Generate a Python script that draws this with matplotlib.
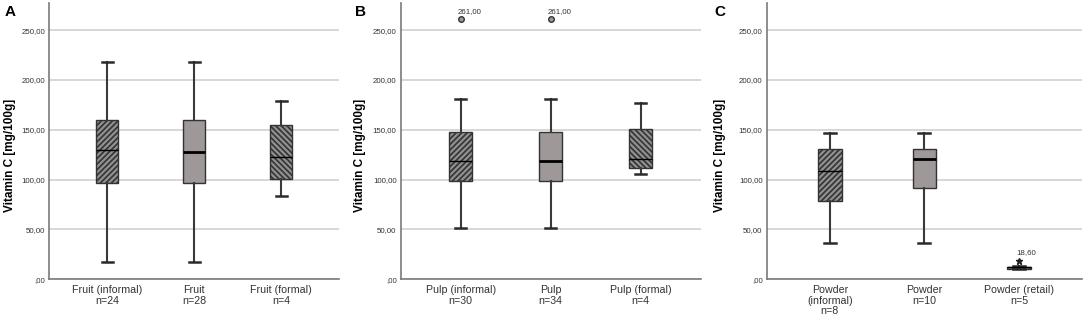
import matplotlib
matplotlib.use('Agg')
import matplotlib.pyplot as plt
from matplotlib.ticker import FuncFormatter

# Panel A - fruit
fruit_labels = ['Fruit (informal)\nn=24', 'Fruit\nn=28', 'Fruit (formal)\nn=4']
fruit_low = [17, 17, 84]
fruit_q1 = [97, 97, 100.5]
fruit_med = [130, 128, 122.5]
fruit_q3 = [160, 160, 154.5]
fruit_high = [218, 218, 179]
fruit_fliers = [[], [], []]

# Panel B - pulp
pulp_labels = ['Pulp (informal)\nn=30', 'Pulp\nn=34', 'Pulp (formal)\nn=4']
pulp_low = [51.5, 51.5, 106]
pulp_q1 = [98.5, 98.5, 112]
pulp_med = [119, 119, 121]
pulp_q3 = [148, 148, 151]
pulp_high = [181, 181, 177]
pulp_fliers = [[261], [261], []]

# Panel C - powder
powder_labels = ['Powder\n(informal)\nn=8', 'Powder\nn=10', 'Powder (retail)\nn=5']
powder_low = [36, 36, 10]
powder_q1 = [79, 92, 10.5]
powder_med = [108.5, 120.5, 12]
powder_q3 = [130.5, 130.5, 12.8]
powder_high = [147, 147, 13]
powder_fliers = [[], [], [18.6]]

y_ticks = [0, 50, 100, 150, 200, 250]

plt.rcParams['font.family'] = ['Liberation Sans', 'DejaVu Sans']
plt.rcParams['hatch.linewidth'] = 1.2
plt.rcParams['hatch.color'] = '#333333'

W, H = 1084, 323


def spss_fmt(v):
    s = f"{v:.2f}".replace('.', ',')
    if s.startswith('0'):
        s = s[1:]
    return s


def draw_panel(ax, labels, low, q1, med, q3, high, fliers, styles, flier_marker):
    for i in range(len(labels)):
        stats = [{'whislo': low[i], 'q1': q1[i], 'med': med[i],
                  'q3': q3[i], 'whishi': high[i], 'fliers': fliers[i]}]
        hatched = styles[i] != 'solid'
        box = dict(facecolor='#909090' if hatched else '#9e9898',
                   edgecolor='#333333', linewidth=1.0,
                   hatch=styles[i] if hatched else None)
        if flier_marker == '*':
            fp = dict(marker='*', markersize=5, markerfacecolor='#222222',
                      markeredgecolor='#222222', linestyle='none')
        else:
            fp = dict(marker='o', markersize=4, markerfacecolor='#9a9a9a',
                      markeredgecolor='#333333', markeredgewidth=1.0,
                      linestyle='none')
        ax.bxp(stats, positions=[i + 1], widths=0.25, capwidths=0.125,
               patch_artist=True, boxprops=box,
               medianprops=dict(color='black', linewidth=1.0 if hatched else 2.0),
               whiskerprops=dict(color='#3a3a3a', linewidth=1.5),
               capprops=dict(color='#2a2a2a', linewidth=1.8),
               flierprops=fp, zorder=3)
        for v in fliers[i]:
            ax.annotate(spss_fmt(v), (i + 1, v), xytext=(-3, 8),
                        textcoords='offset pixels', ha='left', va='center',
                        fontsize=5.7, color='#333333')

    ax.set_xlim(1 / 3, 11 / 3)
    ax.set_ylim(0, 277)
    ax.set_yticks(y_ticks)
    ax.yaxis.set_major_formatter(FuncFormatter(lambda v, p: spss_fmt(v)))
    ax.set_xticks(range(1, len(labels) + 1))
    ax.set_xticklabels(labels, fontsize=7.7, color='#333333')
    for lbl in ax.get_xticklabels():
        lbl.set_linespacing(1.1)
    ax.tick_params(axis='y', length=0, pad=3, labelsize=5.7, labelcolor='#333333')
    ax.tick_params(axis='x', length=0, pad=4)
    ax.set_axisbelow(True)
    ax.grid(axis='y', color='#d4d4d4', linewidth=1.3)
    for side in ['top', 'right']:
        ax.spines[side].set_visible(False)
    for side in ['left', 'bottom']:
        ax.spines[side].set_color('#7a7a7a')
        ax.spines[side].set_linewidth(1.2)


fig = plt.figure(figsize=(W / 100, H / 100), dpi=100)

# axes extents in pixels: left, right
panels = [
    (49.3, 339.3, 'A', 10, fruit_labels, fruit_low, fruit_q1, fruit_med, fruit_q3, fruit_high, fruit_fliers, 'o'),
    (400.7, 700.7, 'B', 360, pulp_labels, pulp_low, pulp_q1, pulp_med, pulp_q3, pulp_high, pulp_fliers, 'o'),
    (766.7, 1082, 'C', 720, powder_labels, powder_low, powder_q1, powder_med, powder_q3, powder_high, powder_fliers, '*'),
]
styles = ['//////', 'solid', '\\\\\\\\\\\\']
top_px, bottom_px = 3.3, 279.3

for left, right, letter, lx, labels, lo, a, m, b, hi, fl, mk in panels:
    ax = fig.add_axes([left / W, (H - bottom_px) / H, (right - left) / W,
                       (bottom_px - top_px) / H])
    draw_panel(ax, labels, lo, a, m, b, hi, fl, styles, mk)
    fig.text(lx / W, 1 - 12 / H, letter, fontsize=11, fontweight='bold',
             ha='center', va='center')
    fig.text(lx / W, 1 - 155 / H, 'Vitamin C [mg/100g]', rotation=90,
             fontsize=8.5, fontweight='bold', ha='center', va='center')

fig.savefig('out.png', dpi=100)
